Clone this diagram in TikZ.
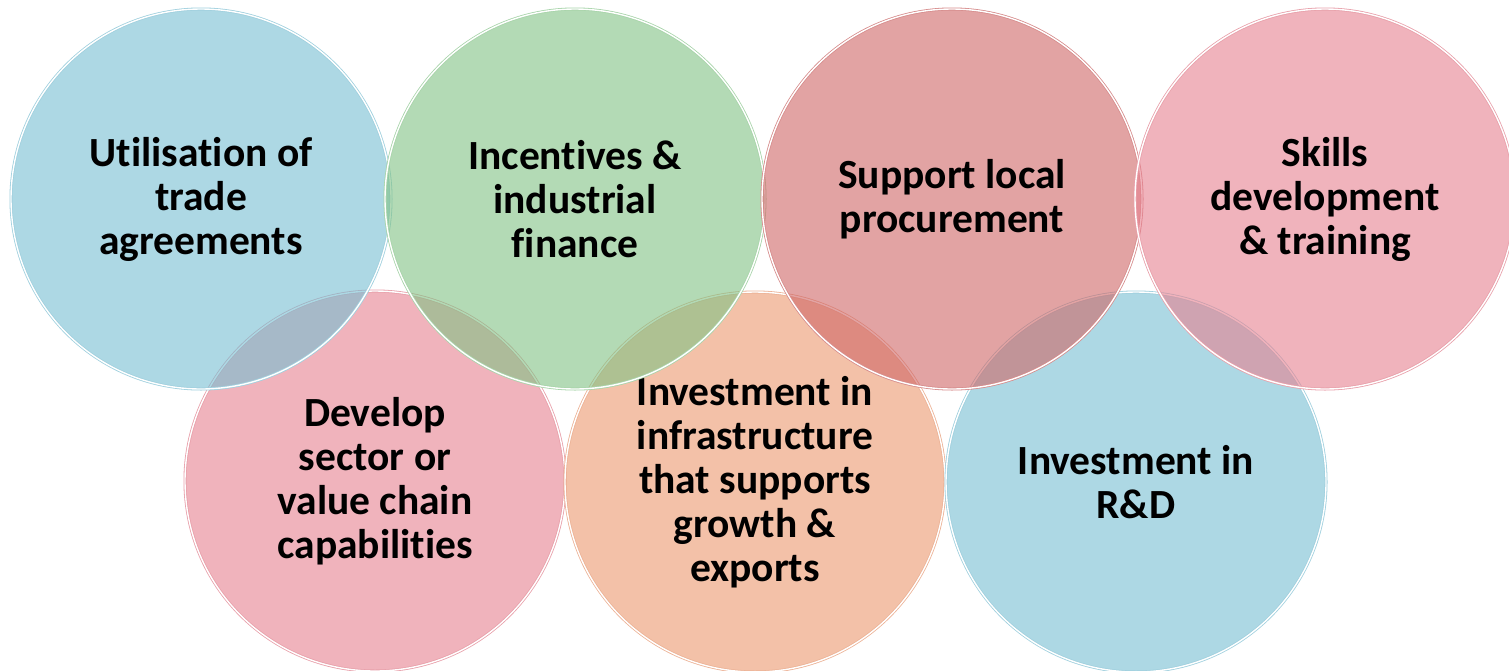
\documentclass[tikz,border=0pt]{standalone}
\usepackage{fontspec}
\setmainfont{Carlito}[Ligatures=NoCommon]
\definecolor{tealfill}{RGB}{118,190,210}
\definecolor{tealedge}{RGB}{160,208,222}
\definecolor{greenfill}{RGB}{128,193,132}
\definecolor{greenedge}{RGB}{168,212,170}
\definecolor{redfill}{RGB}{207,102,102}
\definecolor{rededge}{RGB}{214,140,140}
\definecolor{pinkfill}{RGB}{230,128,143}
\definecolor{pinkedge}{RGB}{232,160,170}
\definecolor{orangefill}{RGB}{235,152,110}
\definecolor{orangeedge}{RGB}{236,178,150}
\tikzset{
  bubble/.style={circle, minimum size=380pt, inner sep=0pt, align=center,
    line width=0.8pt, double=white, double distance=1.4pt,
    fill opacity=0.6, text opacity=1,
    font=\fontsize{41.5}{44}\selectfont\bfseries},
}

\begin{document}
\begin{tikzpicture}[x=1pt,y=-1pt]
    \useasboundingbox (0,0) rectangle (1509,670);
    % lower row
    \node[bubble, fill=pinkfill, draw=pinkedge] (sector) at (375,481) {Develop\\sector or\\value chain\\capabilities};
    \node[bubble, fill=orangefill, draw=orangeedge] (infra) at (755,482) {Investment in\\infrastructure\\that supports\\growth \&\\exports};
    \node[bubble, fill=tealfill, draw=tealedge] (rnd) at (1136,482) {Investment in\\R\&D};
    % upper row
    \node[bubble, fill=tealfill, draw=tealedge] (trade) at (201,199) {Utilisation of\\trade\\agreements};
    \node[bubble, fill=greenfill, draw=greenedge] (finance) at (575,199) {Incentives \&\\industrial\\finance};
    \node[bubble, fill=redfill, draw=rededge] (procure) at (952,199) {Support local\\procurement};
    \node[bubble, fill=pinkfill, draw=pinkedge] (skills) at (1325,199) {Skills\\development\\\& training};
\end{tikzpicture}
\end{document}
